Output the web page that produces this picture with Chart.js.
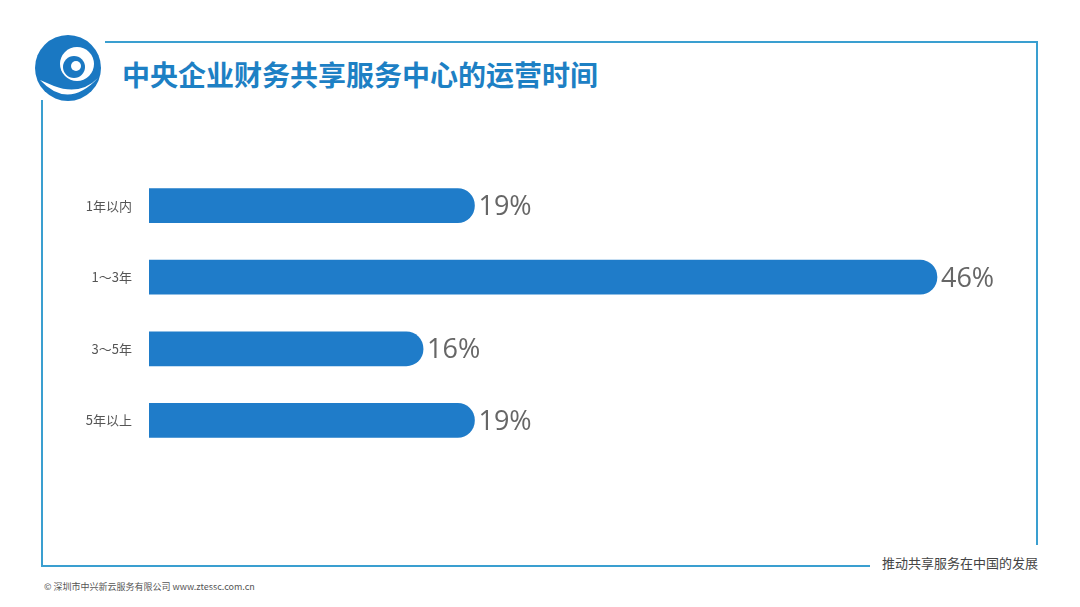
<!DOCTYPE html><html><head><meta charset="utf-8">
<script src="https://cdn.jsdelivr.net/npm/chart.js@4"></script>
<style>
body{margin:0;width:1080px;height:607px;background:#fff;position:relative;overflow:hidden;font-family:"Noto Sans CJK SC",sans-serif}
.l{position:absolute;background:#3a9fd0}
#wrap{position:absolute;left:0;top:153px;width:1080px;height:320px}
</style></head><body>
<div class="l" style="left:105px;top:41px;width:933px;height:2px"></div>
<div class="l" style="left:1036px;top:41px;width:2px;height:504px"></div>
<div class="l" style="left:41px;top:100px;width:2px;height:467px"></div>
<div class="l" style="left:41px;top:565px;width:829px;height:2px"></div>
<svg style="position:absolute;left:30px;top:30px" width="76" height="72">
<circle cx="38" cy="38" r="33" fill="#1a78c2"/>
<path d="M10 50 Q38 80 68 48 Q50 66 24 56 Z" fill="#fff"/>
<circle cx="47" cy="34" r="17" fill="#fff"/>
<circle cx="44" cy="37" r="11" fill="#1a78c2"/>
<circle cx="46" cy="36" r="5" fill="#fff"/>
</svg>
<div style="position:absolute;left:122px;top:56px;font-size:28px;font-weight:bold;color:#1d80c4;line-height:36px">中央企业财务共享服务中心的运营时间</div>
<div style="position:absolute;left:882px;top:553px;font-size:13px;color:#444">推动共享服务在中国的发展</div>
<div style="position:absolute;left:44px;top:580px;font-size:9px;color:#555">© 深圳市中兴新云服务有限公司 www.ztessc.com.cn</div>
<div id="wrap"><canvas id="c"></canvas></div>
<script>
const categories=["1年以内","1～3年","3～5年","5年以上"];
const values=[19,46,16,19];
const lbl={id:'lbl',afterDatasetsDraw(ch){const x=ch.ctx;const m=ch.getDatasetMeta(0);x.save();x.font='27px "Open Sans", sans-serif';x.fillStyle='#666';x.textBaseline='middle';m.data.forEach((b,i)=>x.fillText(values[i]+'%',b.x+4,b.y+2));x.restore();}};
new Chart(document.getElementById('c'),{type:'bar',data:{labels:categories,datasets:[{data:values,backgroundColor:'#1f7cc9',barThickness:34,borderRadius:{topRight:17,bottomRight:17},borderSkipped:false}]},
options:{indexAxis:'y',responsive:true,maintainAspectRatio:false,animation:false,layout:{padding:0},
plugins:{legend:{display:false},tooltip:{enabled:false}},
scales:{x:{display:false,min:0,max:54.35},y:{afterFit(s){s.width=149},grid:{display:false},border:{display:false},ticks:{color:'#555',font:{size:13,family:'"Noto Sans CJK SC"'},padding:9}}}},plugins:[lbl]});
</script></body></html>
